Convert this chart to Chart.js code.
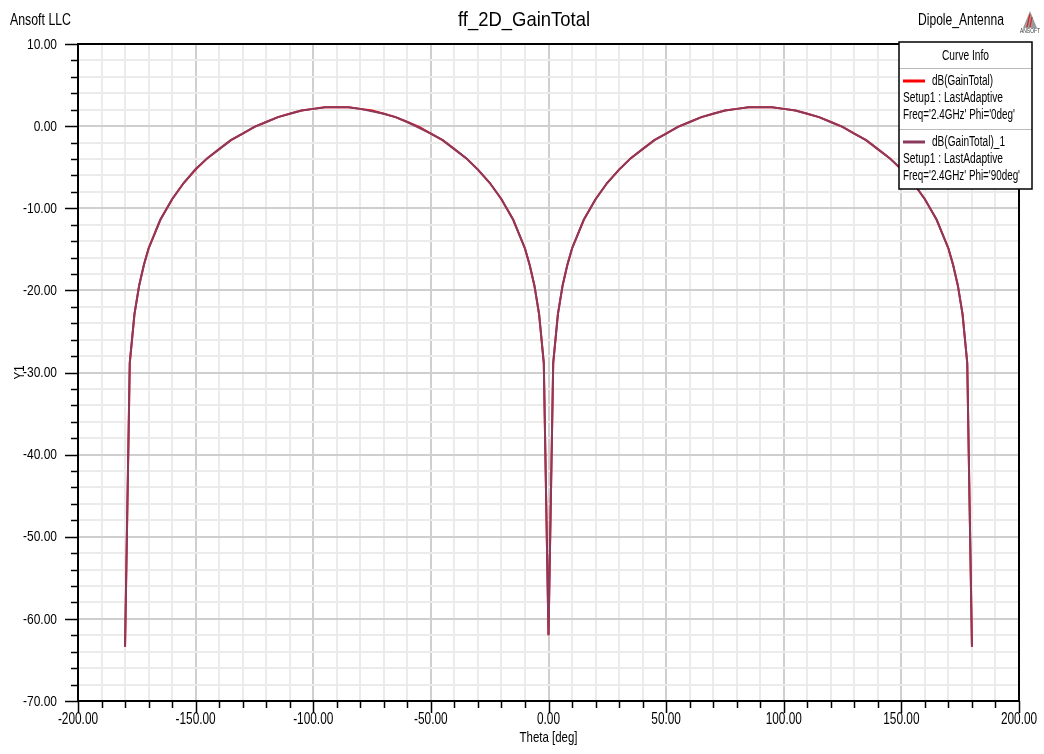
<!DOCTYPE html>
<html>
<head>
<meta charset="utf-8">
<script src="https://cdn.jsdelivr.net/npm/chart.js@4.4.1/dist/chart.umd.min.js"></script>
<style>
  html, body { margin: 0; padding: 0; background: #fff; }
  #wrap { width: 1044px; height: 754px; }
</style>
</head>
<body>
<div id="wrap"><canvas id="chart" width="1044" height="754"></canvas></div>
<script>
// ---- data ----
const theta = [-180, -178, -176, -174, -172, -170, -165, -160, -155, -150, -145, -140, -135, -130, -125, -120, -115, -110, -105, -100, -95, -90,
  -85, -80, -75, -70, -65, -60, -55, -50, -45, -40, -35, -30, -25, -20, -15, -10, -8, -6, -4, -2, 0,
  2, 4, 6, 8, 10, 15, 20, 25, 30, 35, 40, 45, 50, 55, 60, 65, 70, 75, 80, 85, 90,
  95, 100, 105, 110, 115, 120, 125, 130, 135, 140, 145, 150, 155, 160, 165, 170, 172, 174, 176, 178, 180];

const gainPhi0 = [-63.4, -28.9, -22.9, -19.4, -16.9, -14.9, -11.4, -8.9, -6.9, -5.3, -3.9, -2.8, -1.7, -0.9, -0.1, 0.5, 1.1, 1.5, 1.9, 2.1, 2.3, 2.3,
  2.3, 2.1, 1.9, 1.5, 1.1, 0.5, -0.1, -0.9, -1.7, -2.8, -3.9, -5.3, -6.9, -8.9, -11.4, -14.9, -16.9, -19.4, -22.9, -28.9, -62.0,
  -28.9, -22.9, -19.4, -16.9, -14.9, -11.4, -8.9, -6.9, -5.3, -3.9, -2.8, -1.7, -0.9, -0.1, 0.5, 1.1, 1.5, 1.9, 2.1, 2.3, 2.3,
  2.3, 2.1, 1.9, 1.5, 1.1, 0.5, -0.1, -0.9, -1.7, -2.8, -3.9, -5.3, -6.9, -8.9, -11.4, -14.9, -16.9, -19.4, -22.9, -28.9, -63.4];

const gainPhi90 = [-63.4, -28.8, -22.9, -19.4, -16.9, -14.9, -11.4, -8.9, -6.9, -5.2, -3.9, -2.8, -1.7, -0.9, -0.1, 0.5, 1.1, 1.5, 1.9, 2.1, 2.3, 2.3,
  2.3, 2.1, 1.8, 1.5, 1.1, 0.5, -0.2, -0.9, -1.7, -2.8, -3.9, -5.3, -6.9, -8.9, -11.4, -14.9, -16.9, -19.4, -22.9, -28.8, -62.0,
  -28.8, -22.9, -19.4, -16.9, -14.9, -11.4, -8.9, -6.9, -5.3, -3.9, -2.8, -1.7, -0.9, -0.1, 0.5, 1.1, 1.5, 1.9, 2.1, 2.3, 2.3,
  2.3, 2.1, 1.9, 1.5, 1.1, 0.5, -0.1, -0.9, -1.7, -2.8, -3.9, -5.2, -6.9, -8.9, -11.4, -14.9, -16.9, -19.4, -22.9, -28.8, -63.4];

const xMajor = [-200, -150, -100, -50, 0, 50, 100, 150, 200];
const yMajor = [10, 0, -10, -20, -30, -40, -50, -60, -70];

const seriesNames = ['dB(GainTotal)', 'dB(GainTotal)_1'];
const seriesSetup = ['Setup1 : LastAdaptive', 'Setup1 : LastAdaptive'];
const seriesFreq = ["Freq='2.4GHz' Phi='0deg'", "Freq='2.4GHz' Phi='90deg'"];
const seriesColors = ['#ff0000', '#8a3a5c'];

const FONT = "'Liberation Sans', Arial, sans-serif";

const isMajor = (list, v) => list.some(m => Math.abs(m - v) < 1e-6);

// narrow text: regular Liberation Sans squeezed horizontally
function narrowText(ctx, str, x, y, size, sx, align) {
  ctx.save();
  ctx.font = size + 'px ' + FONT;
  ctx.textAlign = align || 'left';
  ctx.textBaseline = 'middle';
  ctx.translate(x, y);
  ctx.scale(sx, 1);
  ctx.fillText(str, 0, 0);
  ctx.restore();
}
// squeeze so the text takes a given width
function fitText(ctx, str, x, y, size, width, align) {
  ctx.save();
  ctx.font = size + 'px ' + FONT;
  const sx = width / ctx.measureText(str).width;
  ctx.restore();
  narrowText(ctx, str, x, y, size, sx, align);
}

const decor = {
  id: 'decor',
  afterDraw(chart) {
    const { ctx, chartArea: a, scales: { x, y } } = chart;
    ctx.save();
    ctx.strokeStyle = '#000';
    ctx.lineWidth = 1.5;
    ctx.beginPath();
    x.ticks.forEach(t => {
      const px = Math.round(x.getPixelForValue(t.value)) + 0.5;
      const len = isMajor(xMajor, t.value) ? 12 : 7;
      ctx.moveTo(px, a.bottom); ctx.lineTo(px, a.bottom + len);
    });
    y.ticks.forEach(t => {
      const py = Math.round(y.getPixelForValue(t.value)) + 0.5;
      const len = isMajor(yMajor, t.value) ? 13 : 7;
      ctx.moveTo(a.left, py); ctx.lineTo(a.left - len, py);
    });
    ctx.stroke();
    ctx.lineWidth = 2;
    ctx.strokeRect(a.left, a.top, a.right - a.left, a.bottom - a.top);

    // tick labels
    ctx.fillStyle = '#000';
    xMajor.forEach(v => narrowText(ctx, v.toFixed(2), x.getPixelForValue(v), a.bottom + 19, 16, 0.74, 'center'));
    yMajor.forEach(v => narrowText(ctx, v.toFixed(2), a.left - 21, y.getPixelForValue(v) + 0.5, 15, 0.8, 'right'));

    // axis titles
    fitText(ctx, 'Theta [deg]', (a.left + a.right) / 2, 738, 15, 58, 'center');
    ctx.save();
    ctx.translate(20, (a.top + a.bottom) / 2);
    ctx.rotate(-Math.PI / 2);
    fitText(ctx, 'Y1', 0, 0, 15, 14, 'center');
    ctx.restore();

    // header texts
    fitText(ctx, 'ff_2D_GainTotal', 524, 20, 21, 132, 'center');
    fitText(ctx, 'Ansoft LLC', 10, 21, 16, 61, 'left');
    fitText(ctx, 'Dipole_Antenna', 918, 21, 16, 86, 'left');

    // small logo
    ctx.fillStyle = '#9a9a9a';
    ctx.beginPath();
    ctx.moveTo(1030, 11); ctx.lineTo(1023, 28); ctx.lineTo(1037, 28); ctx.closePath();
    ctx.fill();
    ctx.strokeStyle = '#e02020';
    ctx.lineWidth = 1.2;
    ctx.beginPath();
    ctx.moveTo(1030, 14); ctx.lineTo(1027, 27);
    ctx.moveTo(1032, 17); ctx.lineTo(1030, 27);
    ctx.stroke();
    ctx.fillStyle = '#333';
    fitText(ctx, 'ANSOFT', 1030, 31, 7, 20, 'center');

    // Curve Info box
    const bx = 899, by = 42, bw = 133, bh = 147;
    ctx.fillStyle = '#fff';
    ctx.fillRect(bx, by, bw, bh);
    ctx.strokeStyle = '#bbb';
    ctx.lineWidth = 1;
    ctx.beginPath();
    ctx.moveTo(bx, by + 26.5); ctx.lineTo(bx + bw, by + 26.5);
    ctx.moveTo(bx, by + 87.5); ctx.lineTo(bx + bw, by + 87.5);
    ctx.stroke();
    ctx.strokeStyle = '#000';
    ctx.lineWidth = 1.5;
    ctx.strokeRect(bx, by, bw, bh);

    ctx.fillStyle = '#000';
    fitText(ctx, 'Curve Info', bx + bw / 2, by + 14, 14, 47, 'center');
    const nameW = [61, 73], freqW = [112, 117];
    for (let i = 0; i < seriesNames.length; i++) {
      const ry = by + 39 + i * 61;
      ctx.strokeStyle = seriesColors[i];
      ctx.lineWidth = 3;
      ctx.beginPath(); ctx.moveTo(903, ry); ctx.lineTo(925, ry); ctx.stroke();
      fitText(ctx, seriesNames[i], 932, ry, 14, nameW[i], 'left');
      fitText(ctx, seriesSetup[i], 903, ry + 17, 14, 100, 'left');
      fitText(ctx, seriesFreq[i], 903, ry + 34, 14, freqW[i], 'left');
    }
    ctx.restore();
  }
};

new Chart(document.getElementById('chart'), {
  type: 'line',
  data: {
    datasets: [
      { label: seriesNames[0], data: theta.map((t, i) => ({ x: t, y: gainPhi0[i] })), borderColor: seriesColors[0], borderWidth: 2, order: 1 },
      { label: seriesNames[1], data: theta.map((t, i) => ({ x: t, y: gainPhi90[i] })), borderColor: seriesColors[1], borderWidth: 2, order: 0 }
    ]
  },
  options: {
    responsive: false,
    animation: false,
    devicePixelRatio: 1,
    layout: { padding: { top: 44, right: 25, left: 0, bottom: 0 } },
    elements: { point: { radius: 0 }, line: { tension: 0 } },
    plugins: { legend: { display: false }, tooltip: { enabled: false }, title: { display: false } },
    scales: {
      x: {
        type: 'linear', min: -200, max: 200,
        afterFit: s => { s.height = 53; },
        border: { display: false },
        grid: { drawTicks: false, lineWidth: 2, color: c => isMajor(xMajor, c.tick.value) ? '#cfcfcf' : '#ebebeb' },
        ticks: { display: false, stepSize: 10, autoSkip: false }
      },
      y: {
        type: 'linear', min: -70, max: 10,
        afterFit: s => { s.width = 78; },
        border: { display: false },
        grid: { drawTicks: false, lineWidth: 2, color: c => isMajor(yMajor, c.tick.value) ? '#cfcfcf' : '#ebebeb' },
        ticks: { display: false, stepSize: 2, autoSkip: false }
      }
    }
  },
  plugins: [decor]
});
</script>
</body>
</html>
